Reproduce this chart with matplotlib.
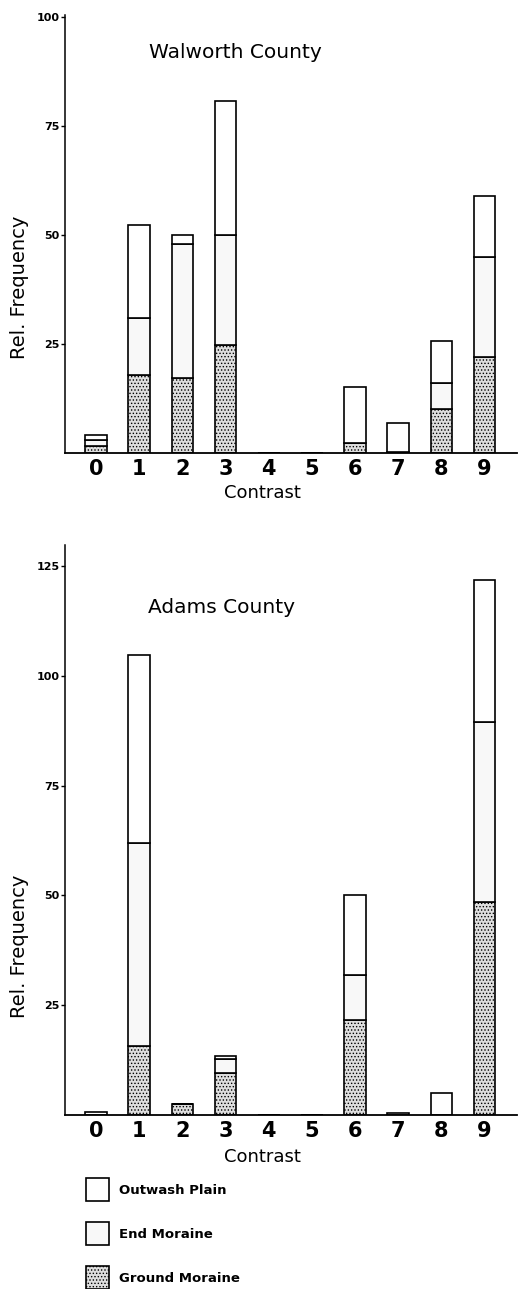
import numpy as np
import matplotlib.pyplot as plt

# contrast classes
contrast = [0, 1, 2, 3, 4, 5, 6, 7, 8, 9]
tick_labels = [str(c) for c in contrast]

# Walworth County (segment heights, stacked ground -> end -> outwash)
walworth_ground = [1.7, 17.8, 17.2, 24.8, 0, 0, 2.2, 0.3, 10.0, 22.1]
walworth_end = [1.3, 13.2, 30.7, 25.1, 0, 0, 0, 0, 6.1, 22.9]
walworth_outwash = [1.2, 21.3, 2.0, 30.9, 0, 0, 12.9, 6.6, 9.5, 14.0]

# Adams County
adams_ground = [0, 15.8, 2.5, 9.6, 0, 0, 21.6, 0, 0, 48.4]
adams_end = [0, 46.1, 0, 3.1, 0, 0, 10.3, 0, 0, 41.0]
adams_outwash = [0.6, 42.9, 0, 0.7, 0, 0, 18.2, 0.5, 5.0, 32.5]

plt.rcParams['hatch.linewidth'] = 0.6
plt.rcParams['hatch.color'] = '#707070'

fig = plt.figure(figsize=(5.29, 12.89), dpi=100)
ax1 = fig.add_axes([0.123, 0.6486, 0.854, 0.3398])
ax2 = fig.add_axes([0.123, 0.135, 0.854, 0.4422])


def draw_panel(ax, ground, end, outwash, ymax, yticks, title, title_xy):
    x = np.array(contrast)
    ground = np.array(ground)
    end = np.array(end)
    outwash = np.array(outwash)
    w = 0.5
    kw = dict(width=w, edgecolor='black', linewidth=1.2)
    b1 = ax.bar(x, ground, color='#dedede', hatch='.....', **kw)
    b2 = ax.bar(x, end, bottom=ground, color='#f8f8f8', **kw)
    b3 = ax.bar(x, outwash, bottom=ground + end, color='white', **kw)
    ax.set_xlim(-0.72, 9.75)
    ax.set_ylim(0, ymax)
    ax.set_yticks(yticks)
    ax.set_yticklabels([str(t) for t in yticks], fontsize=8, fontweight='bold')
    ax.set_xticks(x)
    ax.set_xticklabels(tick_labels, fontsize=15, fontweight='bold')
    ax.tick_params(axis='x', length=0, pad=4)
    ax.tick_params(axis='y', length=3, width=1, pad=1)
    for s in ['top', 'right']:
        ax.spines[s].set_visible(False)
    ax.spines['left'].set_linewidth(1.1)
    ax.spines['bottom'].set_linewidth(1.3)
    ax.text(title_xy[0], title_xy[1], title, transform=ax.transAxes,
            fontsize=14.5, ha='center', va='center')
    return b1, b2, b3


draw_panel(ax1, walworth_ground, walworth_end, walworth_outwash, 100.5,
           [25, 50, 75, 100], 'Walworth County', (0.378, 0.915))
bars = draw_panel(ax2, adams_ground, adams_end, adams_outwash, 129.8,
                  [25, 50, 75, 100, 125], 'Adams County', (0.347, 0.89))

# axis labels placed like the original
fig.text(262 / 529, 1 - 493 / 1289, 'Contrast', fontsize=13, ha='center', va='center')
fig.text(262 / 529, 1 - 1157 / 1289, 'Contrast', fontsize=13, ha='center', va='center')
fig.text(20 / 529, 1 - 287 / 1289, 'Rel. Frequency', fontsize=14, rotation=90,
         ha='center', va='center')
fig.text(20 / 529, 1 - 946 / 1289, 'Rel. Frequency', fontsize=14, rotation=90,
         ha='center', va='center')

fig.legend([bars[2], bars[1], bars[0]], ['Outwash Plain', 'End Moraine', 'Ground Moraine'],
           loc='upper left', bbox_to_anchor=(74 / 529, 1 - 1166 / 1289),
           frameon=False, prop={'size': 9.5, 'weight': 'bold'},
           handlelength=1.75, handleheight=2.32, labelspacing=1.6, handletextpad=0.75)

fig.savefig('out.png', dpi=100)
